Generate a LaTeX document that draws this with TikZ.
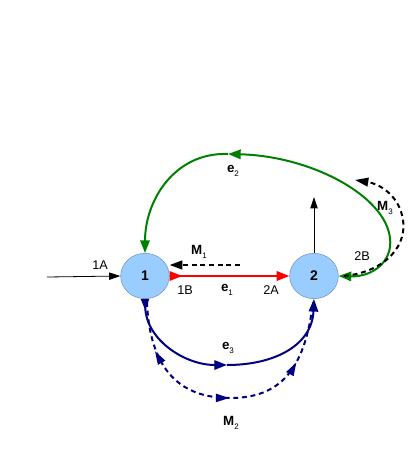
\documentclass[tikz,border=0pt]{standalone}
\usepackage{fontspec}
\setmainfont{Liberation Sans}
\usetikzlibrary{arrows.meta,decorations.markings,shapes.geometric}
\definecolor{nodefill}{HTML}{99CCFF}
\definecolor{nodeline}{HTML}{7392B8}
\definecolor{egreen}{HTML}{008000}
\definecolor{eblue}{HTML}{000080}
\newcommand\edgelab[2]{\textbf{#1}\raisebox{-3.5pt}{\fontsize{6}{6}\selectfont #2}}
\begin{document}
\begin{tikzpicture}[x=0.75pt,y=-0.75pt,
  vert/.style={ellipse,draw=nodeline,fill=nodefill,minimum width=36.5pt,minimum height=34pt,inner sep=0pt,font=\fontsize{10.5}{12}\selectfont\bfseries},
  plain/.style={font=\fontsize{9.5}{11}\selectfont},
  elab/.style={font=\fontsize{10}{12}\selectfont},
  thick edge/.style={line width=1.5pt},
  tip/.tip={Triangle[length=9.5pt,width=7pt]},
  rtip/.tip={Triangle[length=9.5pt,width=7pt,reversed]},
  btip/.tip={Triangle[length=8.5pt,width=6pt]},
  dtip/.tip={Triangle[length=10pt,width=6pt]},
  rdtip/.tip={Triangle[length=10pt,width=6pt,reversed]},
  stip/.tip={Triangle[length=8.5pt,width=5.5pt]},
  mdash/.style={line width=1.5pt,dash pattern=on 3.7pt off 2.8pt}
]
\useasboundingbox (0,0) rectangle (415,472);

\node[vert] (n1) at (145,276) {1};
\node[vert] (n2) at (314,276) {2};

% coordinates
\coordinate (in1) at (47,277);
\coordinate (up2) at (314,197);
\coordinate (m1s) at (240,265);
\coordinate (g1) at (390,238);
\coordinate (g2) at (228,154);
\coordinate (b1) at (227,365);
\coordinate (m3s) at (344,276);
\coordinate (m3m) at (402,215);
\coordinate (m3e) at (355,180);
\coordinate (m2s) at (147,302);
\coordinate (m2m) at (230,398);
\coordinate (m2e) at (313,302);

% black arrows
\draw[line width=0.6pt,-stip] (in1) -- (n1.west);
\draw[line width=0.6pt,-stip] (n2.north) -- (up2);

% red e1
\draw[red,thick edge,rtip-tip] (n1.east) -- (n2.west);

% M1
\draw[mdash,-{Triangle[length=9.5pt,width=6.5pt]}] (m1s) -- (n1.east |- m1s);

% green e2
\draw[egreen,thick edge,tip-tip] (n2.east) .. controls (372,277) and (393,262) .. (g1)
   .. controls (385,195) and (310,156) .. (g2);
\draw[egreen,thick edge,-tip] (g2) .. controls (175,152) and (145,200) .. (n1.north);

% M3
\draw[mdash,-{Triangle[length=10pt,width=6.5pt]}] (m3s) .. controls (385,272) and (410,245) .. (m3m)
   .. controls (397,195) and (380,184) .. (m3e);

% blue e3
\draw[eblue,thick edge,{Triangle[length=8.5pt,width=6pt,reversed]}-tip] (n1.south) .. controls (146,340) and (185,365) .. (b1);
\draw[eblue,thick edge,-tip] (b1) .. controls (275,365) and (312,345) .. (n2.south);

% M2
\draw[eblue,mdash,postaction={decorate},decoration={markings,
   mark=at position 0.22 with {\arrow{rdtip}},
   mark=at position 0.50 with {\arrow{dtip}},
   mark=at position 0.78 with {\arrow{dtip}}}]
   (m2s) .. controls (150,380) and (190,398) .. (m2m) .. controls (280,398) and (305,370) .. (m2e);

% labels
\node[plain] (l1a) at (100,265) {1A};
\node[plain] (l1b) at (185,290) {1B};
\node[plain] (l2a) at (271,290) {2A};
\node[plain] (l2b) at (362,256) {2B};
\node[elab] (le1) at (227,290) {\edgelab{e}{1}};
\node[elab] (le2) at (233,171) {\edgelab{e}{2}};
\node[elab] (le3) at (228,348) {\edgelab{e}{3}};
\node[elab] (lm1) at (199,252) {\edgelab{M}{1}};
\node[elab] (lm2) at (231,423) {\edgelab{M}{2}};
\node[elab] (lm3) at (385,208) {\edgelab{M}{3}};
\end{tikzpicture}
\end{document}
